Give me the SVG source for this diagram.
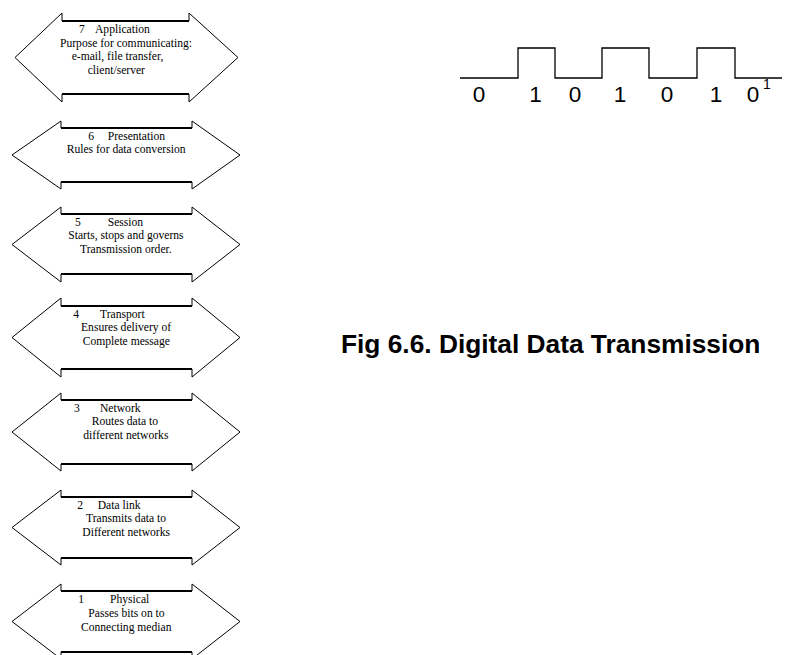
<svg xmlns="http://www.w3.org/2000/svg" width="793" height="655" viewBox="0 0 793 655">
<style>
.arrow{fill:#fff;stroke:#000;stroke-width:1}
.shaft{stroke:#000;stroke-width:1.8}
.t{font-family:"Liberation Serif","Times New Roman",serif;font-size:11.6px;fill:#000}
.d{font-family:"Liberation Sans",Arial,sans-serif;font-size:22.5px;fill:#000;text-anchor:middle}
.sup{font-family:"Liberation Sans",Arial,sans-serif;font-size:14px;fill:#000;text-anchor:middle}
.title{font-family:"Liberation Sans",Arial,sans-serif;font-size:26.3px;font-weight:bold;fill:#000}
</style>
<rect width="793" height="655" fill="#fff"/>
<g id="layer7">
<polygon class="arrow" points="15,57.5 62,13 62,21 189,21 189,13 238,57.5 189,102 189,94 62,94 62,102"/>
<path class="shaft" d="M62,21H189M62,94H189"/>
<text class="t" y="33"><tspan x="79">7</tspan><tspan x="95">Application</tspan></text>
<text class="t" x="60" y="46.5">Purpose for communicating:</text>
<text class="t" x="71.7" y="60">e-mail, file transfer,</text>
<text class="t" x="87.7" y="73.5">client/server</text>
</g>
<g id="layer6">
<polygon class="arrow" points="12,155 61,121 61,128 192,128 192,121 240,155 192,189 192,182 61,182 61,189"/>
<path class="shaft" d="M61,128H192M61,182H192"/>
<text class="t" y="140"><tspan x="88.3">6</tspan><tspan x="107.7">Presentation</tspan></text>
<text class="t" x="66.7" y="153.3">Rules for data conversion</text>
</g>
<g id="layer5">
<polygon class="arrow" points="12,244.5 61,207 61,214 192,214 192,207 240,244.5 192,282 192,274 61,274 61,282"/>
<path class="shaft" d="M61,214H192M61,274H192"/>
<text class="t" y="226"><tspan x="75">5</tspan><tspan x="107.7">Session</tspan></text>
<text class="t" x="68.3" y="239.3">Starts, stops and governs</text>
<text class="t" x="80" y="252.6">Transmission order.</text>
</g>
<g id="layer4">
<polygon class="arrow" points="12,337.5 61,298 61,306 192,306 192,298 240,337.5 192,377 192,369 61,369 61,377"/>
<path class="shaft" d="M61,306H192M61,369H192"/>
<text class="t" y="318"><tspan x="73.3">4</tspan><tspan x="100">Transport</tspan></text>
<text class="t" x="81" y="331.3">Ensures delivery of</text>
<text class="t" x="82.7" y="344.6">Complete message</text>
</g>
<g id="layer3">
<polygon class="arrow" points="12,432 61,393 61,400 192,400 192,393 240,432 192,471 192,464 61,464 61,471"/>
<path class="shaft" d="M61,400H192M61,464H192"/>
<text class="t" y="412"><tspan x="74">3</tspan><tspan x="100">Network</tspan></text>
<text class="t" x="91.7" y="425.3">Routes data to</text>
<text class="t" x="83.3" y="438.6">different networks</text>
</g>
<g id="layer2">
<polygon class="arrow" points="12,527.5 61,490 61,497 192,497 192,490 240,527.5 192,565 192,558 61,558 61,565"/>
<path class="shaft" d="M61,497H192M61,558H192"/>
<text class="t" y="508.5"><tspan x="77.3">2</tspan><tspan x="97.7">Data link</tspan></text>
<text class="t" x="86" y="522.3">Transmits data to</text>
<text class="t" x="82.3" y="536">Different networks</text>
</g>
<g id="layer1">
<polygon class="arrow" points="12,621.5 61,584 61,591 192,591 192,584 240,621.5 192,659 192,652 61,652 61,659"/>
<path class="shaft" d="M61,591H192M61,652H192"/>
<text class="t" y="603"><tspan x="78.3">1</tspan><tspan x="110">Physical</tspan></text>
<text class="t" x="88.3" y="616.7">Passes bits on to</text>
<text class="t" x="81" y="630.5">Connecting median</text>
</g>
<g id="signal">
<path d="M460,78H518V48H555V78H602V48H649V78H697V48H735V78H782" fill="none" stroke="#000" stroke-width="1.3"/>
<text class="d" x="479" y="102">0</text>
<text class="d" x="535.5" y="102">1</text>
<text class="d" x="575" y="102">0</text>
<text class="d" x="620" y="102">1</text>
<text class="d" x="667" y="102">0</text>
<text class="d" x="716" y="102">1</text>
<text class="d" x="753" y="102">0</text>
<text class="sup" x="767" y="89">1</text>
</g>
<g id="caption">
<text class="title" x="341" y="353">Fig 6.6. Digital Data Transmission</text>
</g>
<g id="connectors"/>
</svg>
